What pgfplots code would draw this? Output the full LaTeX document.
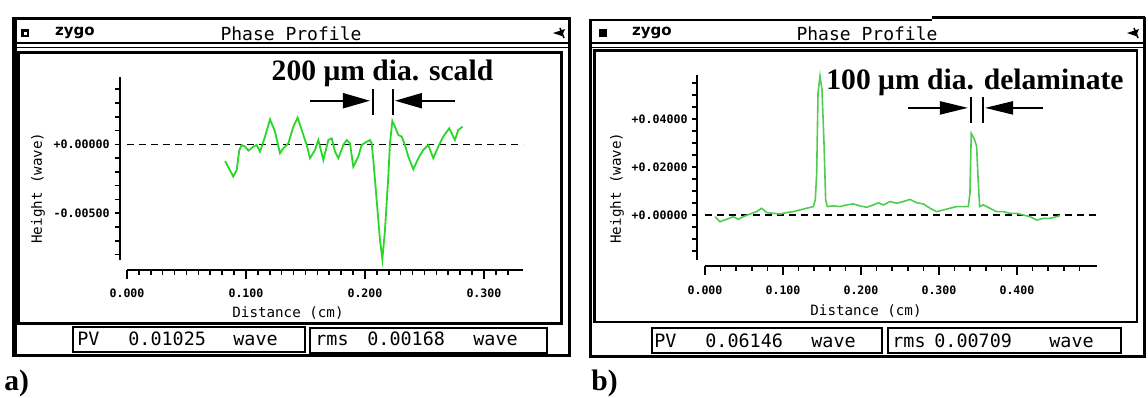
\documentclass[border=0pt]{standalone}
\usepackage{pgfplots}
\pgfplotsset{compat=1.18}
\usetikzlibrary{arrows.meta}
\usepackage{fontspec}
\setmainfont{Liberation Serif}
\setmonofont{DejaVu Sans Mono}
\newfontfamily\logofont{DejaVu Sans}
\definecolor{curveA}{RGB}{40,215,40}
\definecolor{curveB}{RGB}{80,205,80}
\newcommand{\uifont}{\ttfamily\fontsize{9.2}{10}\selectfont}
\newcommand{\titlefont}{\ttfamily\fontsize{9}{10}\selectfont}
\newcommand{\tickfont}{\ttfamily\bfseries\fontsize{5.8}{6}\selectfont}
\newcommand{\labfont}{\ttfamily\fontsize{7.1}{8}\selectfont}
\newcommand{\annfont}{\bfseries\fontsize{14.8}{16}\selectfont}
\pgfplotsset{zygo/.style={
  scale only axis, clip=false,
  axis x line*=bottom, axis y line*=left,
  axis line style={-, line width=0.75pt, black},
  tick align=outside, major tick length=2.5pt,
  tick style={black, line width=0.8pt},
  scaled x ticks=false, scaled y ticks=false,
  xticklabel style={font=\tickfont, inner sep=0pt},
  yticklabel style={font=\tickfont, inner sep=0pt, anchor=east},
  xlabel style={font=\labfont, anchor=center},
  ylabel style={font=\labfont, anchor=center},
}}
\begin{document}
\begin{tikzpicture}
\begin{scope}[x=0.5pt,y=-0.5pt]
\path[use as bounding box] (0,0) rectangle (1148,397);
% ---------- panel a frame
\draw[line width=1.5pt] (14.5,18.5) rectangle (569.5,355.5);
\fill (12,17) rectangle (16.5,357);
\draw[line width=0.75pt] (16,43) -- (568,43);
\draw[line width=0.75pt] (16,47.5) -- (568,47.5);
\draw[line width=1.5pt] (18.5,52) rectangle (561.5,323);
\draw[line width=1.25pt] (73,327) rectangle (305,352);
\draw[line width=0.75pt] (310,328) rectangle (547,353);
\fill (21,29) rectangle (29,37);
\fill[white] (23.5,31.5) rectangle (26.5,34.5);
\node[font=\logofont\bfseries\fontsize{7.5}{8}\selectfont, inner sep=0] at (75,33) {zygo};
\node[font=\titlefont, anchor=base, inner sep=0] at (291,40) {Phase Profile};
\fill (553,33) -- (565,29) -- (562,36) -- cycle;
\draw[line width=0.75pt] (560,28) -- (564,38);
\node[font=\uifont, anchor=base west, inner sep=0] at (77,345) {PV};
\node[font=\uifont, anchor=base west, inner sep=0] at (128,345) {0.01025};
\node[font=\uifont, anchor=base west, inner sep=0] at (233,345) {wave};
\node[font=\uifont, anchor=base west, inner sep=0] at (315,345) {rms};
\node[font=\uifont, anchor=base west, inner sep=0] at (367,345) {0.00168};
\node[font=\uifont, anchor=base west, inner sep=0] at (473,345) {wave};
\node[font=\annfont, anchor=base west, inner sep=0] at (4,390) {a)};
% ---------- panel b frame
\draw[line width=1.25pt] (590.5,20) -- (932,20);
\draw[line width=1.25pt] (932,17.5) -- (1144.5,17.5);
\draw[line width=1.5pt] (590.5,19) -- (590.5,356.5) -- (1144.5,356.5) -- (1144.5,17);
\draw[line width=0.75pt] (592,43) -- (1143,43);
\draw[line width=0.75pt] (592,47.5) -- (1143,47.5);
\draw[line width=1.25pt] (594.5,50.5) rectangle (1137,322);
\draw[line width=1.25pt] (652,328) rectangle (882,353);
\draw[line width=0.75pt] (888,328) rectangle (1121,353);
\fill (599,29) rectangle (607,37);
\node[font=\logofont\bfseries\fontsize{7.5}{8}\selectfont, inner sep=0] at (652,33) {zygo};
\node[font=\titlefont, anchor=base, inner sep=0] at (867,40) {Phase Profile};
\fill (1127,33) -- (1139,29) -- (1136,36) -- cycle;
\draw[line width=0.75pt] (1134,28) -- (1138,38);
\node[font=\uifont, anchor=base west, inner sep=0] at (654,347) {PV};
\node[font=\uifont, anchor=base west, inner sep=0] at (705,347) {0.06146};
\node[font=\uifont, anchor=base west, inner sep=0] at (811,347) {wave};
\node[font=\uifont, anchor=base west, inner sep=0] at (892,347) {rms};
\node[font=\uifont, anchor=base west, inner sep=0] at (934,347) {0.00709};
\node[font=\uifont, anchor=base west, inner sep=0] at (1049,347) {wave};
\node[font=\annfont, anchor=base west, inner sep=0] at (591,390) {b)};
\end{scope}
% ---------- axis a
\begin{axis}[zygo, at={(63.5pt,-130pt)}, anchor=south west,
  width=198pt, height=91.5pt,
  xmin=0, xmax=0.3328, ymin=-0.00839, ymax=0.00488,
  axis x line shift=5pt, axis y line shift=3.5pt,
  xticklabel style={yshift=-4.5pt},
  yticklabel style={xshift=-2.5pt},
  xtick={0,0.01,0.02,0.03,0.04,0.05,0.06,0.07,0.08,0.09,0.1,0.11,0.12,0.13,0.14,0.15,0.16,0.17,0.18,0.19,0.2,0.21,0.22,0.23,0.24,0.25,0.26,0.27,0.28,0.29,0.3,0.31,0.32},
  xticklabels={},
  extra x ticks={0,0.1,0.2,0.3}, extra x tick labels={0.000,0.100,0.200,0.300},
  extra x tick style={major tick length=4.5pt},
  ytick={-0.008,-0.007,-0.006,-0.005,-0.004,-0.003,-0.002,-0.001,0,0.001,0.002,0.003,0.004},
  yticklabels={},
  extra y ticks={-0.005,0}, extra y tick labels={-0.00500,+0.00000},
  xlabel={Distance (cm)}, ylabel={Height (wave)},
  xlabel style={at={(axis description cs:0.4066,-0.2896)}},
  ylabel style={at={(axis description cs:-0.2247,0.3934)}},
]
\addplot[black, line width=0.65pt, dash pattern=on 3.5pt off 2.5pt] coordinates {(0,0) (0.3328,0)};
\addplot[curveA, line width=0.9pt] coordinates {
(0.0824,-0.00121) (0.0893,-0.00234) (0.0922,-0.00186) (0.0944,-0.00041) (0.0964,-0.00005) (0.0992,-0.00017) (0.1020,-0.00046) (0.1062,-0.00017) (0.1090,-0.00005) (0.1118,-0.00053) (0.1160,0.00056) (0.1202,0.00181) (0.1244,0.00092) (0.1286,-0.00065) (0.1314,-0.00029) (0.1356,0.00007) (0.1398,0.00128) (0.1434,0.00193) (0.1482,0.00068) (0.1510,-0.00005) (0.1538,-0.00101) (0.1580,-0.00041) (0.1608,0.00031) (0.1650,-0.00114) (0.1692,0.00031) (0.1720,0.00043) (0.1748,-0.00053) (0.1776,-0.00101) (0.1818,-0.00005) (0.1846,0.00031) (0.1874,0.00007) (0.1902,-0.00162) (0.1944,-0.00089) (0.1972,-0.00005) (0.2014,0.00019) (0.2042,0.00031) (0.2056,0.00007) (0.2070,-0.00114) (0.2098,-0.00403) (0.2126,-0.00693) (0.2146,-0.00833) (0.2168,-0.00621) (0.2196,-0.00234) (0.2210,0.00007) (0.2230,0.00169) (0.2252,0.00128) (0.2280,0.00068) (0.2308,0.00056) (0.2336,-0.00005) (0.2364,-0.00089) (0.2406,-0.00181) (0.2448,-0.00101) (0.2490,-0.00041) (0.2532,-0.00005) (0.2574,-0.00101) (0.2616,-0.00017) (0.2658,0.00056) (0.2708,0.00116) (0.2756,0.00031) (0.2784,0.00104) (0.2821,0.00128)};
\draw[line width=1pt, -{Triangle[length=13.5pt,width=7.5pt]}] (axis cs:0.1538,0.00316) -- (axis cs:0.2042,0.00316);
\draw[line width=1pt] (axis cs:0.2067,0.0040) -- (axis cs:0.2067,0.00212);
\draw[line width=1pt] (axis cs:0.2235,0.0040) -- (axis cs:0.2235,0.00212);
\draw[line width=1pt, -{Triangle[length=13.5pt,width=7.5pt]}] (axis cs:0.2756,0.00316) -- (axis cs:0.2252,0.00316);
\node[font=\annfont, anchor=base, inner sep=0] at (axis cs:0.2147,0.00461) {200 μm dia. scald};
\end{axis}
% ---------- axis b
\begin{axis}[zygo, at={(352.5pt,-130pt)}, anchor=south west,
  width=196pt, height=92.5pt,
  xmin=0, xmax=0.5026, ymin=-0.01875, ymax=0.0583,
  axis x line shift=3pt, axis y line shift=4pt,
  xticklabel style={yshift=-5pt},
  yticklabel style={xshift=-2pt},
  xtick={0,0.02,0.04,0.06,0.08,0.1,0.12,0.14,0.16,0.18,0.2,0.22,0.24,0.26,0.28,0.3,0.32,0.34,0.36,0.38,0.4,0.42,0.44,0.46,0.48},
  xticklabels={},
  extra x ticks={0,0.1,0.2,0.3,0.4}, extra x tick labels={0.000,0.100,0.200,0.300,0.400},
  extra x tick style={major tick length=4.5pt},
  ytick={-0.015,-0.01,-0.005,0,0.005,0.01,0.015,0.02,0.025,0.03,0.035,0.04,0.045,0.05,0.055},
  yticklabels={},
  extra y ticks={0,0.02,0.04}, extra y tick labels={+0.00000,+0.02000,+0.04000},
  xlabel={Distance (cm)}, ylabel={Height (wave)},
  xlabel style={at={(axis description cs:0.4107,-0.2757)}},
  ylabel style={at={(axis description cs:-0.2245,0.389)}},
]
\addplot[black, line width=0.65pt, dash pattern=on 3.5pt off 2.5pt] coordinates {(0,0) (0.5026,0)};
\addplot[curveB, line width=0.8pt] coordinates {
(0.0128,-0.0007) (0.0192,-0.0028) (0.0278,-0.0018) (0.0363,-0.0007) (0.0427,-0.0018) (0.0491,-0.0007) (0.0577,0.0004) (0.0662,0.0014) (0.0726,0.0028) (0.0791,0.0010) (0.0876,0.0007) (0.0962,0.0004) (0.1047,0.0010) (0.1132,0.0014) (0.1218,0.0021) (0.1303,0.0028) (0.1389,0.0035) (0.1414,0.0063) (0.1432,0.0174) (0.1449,0.0507) (0.1474,0.0579) (0.1500,0.0521) (0.1526,0.0299) (0.1547,0.0063) (0.1568,0.0035) (0.1645,0.0038) (0.1731,0.0035) (0.1816,0.0042) (0.1901,0.0046) (0.1987,0.0038) (0.2073,0.0032) (0.2158,0.0042) (0.2222,0.0051) (0.2286,0.0042) (0.2372,0.0056) (0.2457,0.0049) (0.2543,0.0056) (0.2628,0.0065) (0.2714,0.0051) (0.2799,0.0046) (0.2885,0.0028) (0.2970,0.0014) (0.3056,0.0021) (0.3141,0.0028) (0.3226,0.0035) (0.3312,0.0035) (0.3376,0.0035) (0.3397,0.0090) (0.3414,0.0340) (0.3432,0.0329) (0.3457,0.0313) (0.3483,0.0285) (0.3500,0.0160) (0.3521,0.0035) (0.3568,0.0042) (0.3654,0.0028) (0.3739,0.0014) (0.3825,0.0014) (0.3910,0.0007) (0.3996,0.0007) (0.4081,0) (0.4167,-0.0007) (0.4252,-0.0021) (0.4338,-0.0014) (0.4423,-0.0014) (0.4509,-0.0007) (0.4551,-0.0003)};
\draw[line width=1pt, -{Triangle[length=14pt,width=6.5pt]}] (axis cs:0.2603,0.0446) -- (axis cs:0.3372,0.0446);
\draw[line width=1pt] (axis cs:0.3410,0.0492) -- (axis cs:0.3410,0.0383);
\draw[line width=1pt] (axis cs:0.3564,0.0492) -- (axis cs:0.3564,0.0383);
\draw[line width=1pt, -{Triangle[length=14pt,width=6.5pt]}] (axis cs:0.4333,0.0446) -- (axis cs:0.3590,0.0446);
\node[font=\annfont, anchor=base, inner sep=0] at (axis cs:0.3462,0.05237) {100 μm dia. delaminate};
\end{axis}
\end{tikzpicture}
\end{document}
